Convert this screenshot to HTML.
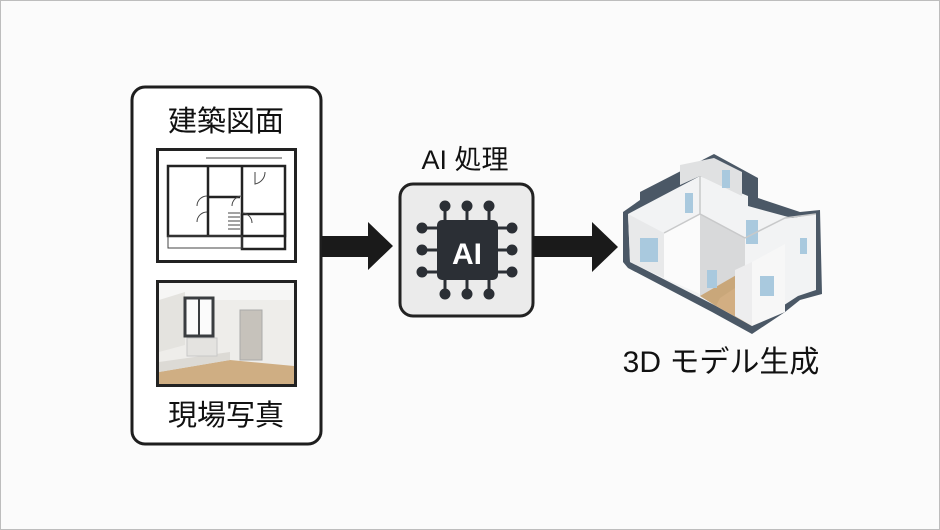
<!DOCTYPE html>
<html><head><meta charset="utf-8"><style>
html,body{margin:0;padding:0;background:#fff}
svg{display:block}
text{font-family:"Liberation Sans","Noto Sans CJK JP",sans-serif}
</style></head><body>
<svg width="940" height="530" viewBox="0 0 940 530" xmlns="http://www.w3.org/2000/svg">
<rect x="0.5" y="0.5" width="939" height="529" fill="#fbfbfb" stroke="#bdbdbd"/>
<!-- left panel -->
<rect x="132" y="87" width="189" height="357" rx="13" fill="#fff" stroke="#1e1e1e" stroke-width="3"/>
<text x="226" y="131" font-size="29" text-anchor="middle" fill="#111">建築図面</text>
<rect x="157.5" y="149.5" width="138" height="112" fill="#fff" stroke="#222" stroke-width="3"/>
<g stroke="#222" stroke-width="2.5" fill="none">
<rect x="168" y="166" width="117" height="70"/>
<line x1="208" y1="166" x2="208" y2="236"/>
<line x1="208" y1="197" x2="240" y2="197"/>
<line x1="242" y1="166" x2="242" y2="236"/>
<rect x="242" y="214" width="43" height="35"/>
</g>
<g stroke="#444" stroke-width="1" fill="none">
<line x1="206" y1="158" x2="282" y2="158"/>
<rect x="168" y="236" width="74" height="12"/>
<path d="M197 206 a10 10 0 0 1 10 -10"/><path d="M197 222 a10 10 0 0 1 10 -10"/>
<path d="M232 206 a10 10 0 0 1 10 -10"/><path d="M242 213 a10 10 0 0 1 10 10"/>
<path d="M255 172 v12 a12 12 0 0 0 10 -12"/>
<line x1="228" y1="213" x2="240" y2="213"/><line x1="228" y1="217" x2="240" y2="217"/><line x1="228" y1="221" x2="240" y2="221"/><line x1="228" y1="225" x2="240" y2="225"/><line x1="228" y1="229" x2="240" y2="229"/>
</g>
<rect x="157.5" y="281.5" width="138" height="104" fill="#eeedea" stroke="#222" stroke-width="3"/>
<polygon points="159,283 294,283 294,300 159,300" fill="#f6f6f5"/>
<polygon points="159,300 185,292 185,345 159,352" fill="#e4e3df"/>
<polygon points="159,372 230,360 294,366 294,384 159,384" fill="#cfae83"/>
<polygon points="159,372 230,360 230,352 159,362" fill="#dcdad5"/>
<rect x="185" y="298" width="28" height="38" fill="#fbfbfb" stroke="#3a3d40" stroke-width="3"/>
<line x1="199" y1="298" x2="199" y2="336" stroke="#3a3d40" stroke-width="2"/>
<rect x="187" y="338" width="30" height="18" fill="#e4e3e0" stroke="#c8c8c8"/>
<rect x="240" y="310" width="22" height="50" fill="#c6c2bb" stroke="#aaa"/>
<text x="226" y="425" font-size="29" text-anchor="middle" fill="#111">現場写真</text>
<!-- arrow 1 -->
<polygon points="322,236 368,236 368,222 393,246 368,270 368,257 322,257" fill="#1a1a1a"/>
<!-- AI -->
<text x="465" y="169" font-size="27" text-anchor="middle" fill="#111">AI 処理</text>
<rect x="400" y="184" width="133" height="132" rx="13" fill="#ebebeb" stroke="#222" stroke-width="3"/>
<g stroke="#2b2f35" stroke-width="3" fill="#2b2f35">
<line x1="445" y1="206" x2="445" y2="294"/><line x1="467" y1="206" x2="467" y2="294"/><line x1="489" y1="206" x2="489" y2="294"/>
<line x1="422" y1="228" x2="512" y2="228"/><line x1="422" y1="250" x2="512" y2="250"/><line x1="422" y1="272" x2="512" y2="272"/>
<circle cx="445" cy="206" r="4"/><circle cx="467" cy="206" r="4"/><circle cx="489" cy="206" r="4"/>
<circle cx="445" cy="294" r="4"/><circle cx="467" cy="294" r="4"/><circle cx="489" cy="294" r="4"/>
<circle cx="422" cy="228" r="4"/><circle cx="422" cy="250" r="4"/><circle cx="422" cy="272" r="4"/>
<circle cx="512" cy="228" r="4"/><circle cx="512" cy="250" r="4"/><circle cx="512" cy="272" r="4"/>
</g>
<rect x="437" y="220" width="61" height="60" rx="5" fill="#2b2f35"/>
<text x="467" y="264" font-size="30" font-weight="bold" text-anchor="middle" fill="#fff">AI</text>
<!-- arrow 2 -->
<polygon points="533,236 592,236 592,222 618,247 592,272 592,257 533,257" fill="#1a1a1a"/>
<!-- 3D model -->
<polygon points="623,212 640,200 640,192 714,154 758,178 758,198 800,212 820,210 822,294 800,300 785,312 752,334 712,312 628,268 623,262" fill="#4b5866"/>
<polygon points="628,214 700,176 748,196 748,206 792,218 816,214 816,290 798,296 752,326 716,306 630,262" fill="#f2f3f4"/>
<polygon points="628,214 664,233 664,278 630,262" fill="#e8e9ea"/>
<polygon points="664,233 700,214 700,294 664,278" fill="#fbfbfb"/>
<polygon points="700,214 745,238 745,290 716,306 700,296" fill="#d8d9da"/>
<polygon points="700,296 745,270 745,286 716,306" fill="#c9a77a"/>
<polygon points="720,298 735,288 752,326 716,306" fill="#d2ae82"/>
<polygon points="735,270 752,262 752,326 735,316" fill="#ededee"/>
<polygon points="752,262 785,244 785,312 752,326" fill="#f7f7f7"/>
<polygon points="680,165 714,158 742,172 742,196 700,176 680,185" fill="#e0e1e2"/>
<g fill="#a9c9de">
<rect x="640" y="238" width="18" height="24"/>
<rect x="707" y="270" width="10" height="18"/>
<rect x="760" y="276" width="14" height="20"/>
<rect x="800" y="238" width="7" height="16"/>
<rect x="685" y="193" width="8" height="20"/>
<rect x="722" y="170" width="8" height="18"/>
<rect x="746" y="220" width="12" height="24"/>
</g>
<g stroke="#c8c9ca" stroke-width="1.5" fill="none">
<path d="M664 233 L700 214 L745 238"/><path d="M700 176 L700 214"/><path d="M745 238 L785 218 L816 214"/>
</g>
<text x="721" y="372" font-size="30" text-anchor="middle" fill="#111">3D モデル生成</text>
</svg>
</body></html>
